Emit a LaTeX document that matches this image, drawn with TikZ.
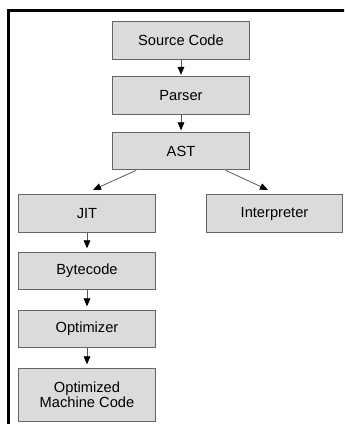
\documentclass[tikz,border=0pt]{standalone}
\usepackage{fontspec}
\setmainfont{Liberation Sans}
\usetikzlibrary{arrows.meta}

\begin{document}
\begin{tikzpicture}[x=0.75pt, y=-0.75pt,
    box/.style={rectangle, draw=black!60, fill=black!14, line width=0.8pt,
    minimum width=102.5pt, minimum height=28.2pt, inner sep=0pt,
    font=\fontsize{11}{10}\selectfont, align=center},
    flow/.style={draw=black!65, line width=0.6pt,
    -{Triangle[length=6pt, width=5pt, color=black]}}]
    \useasboundingbox (0, 0) rectangle (344, 424);
    \clip (0, 0) rectangle (344, 424);
    \draw [line width=2.3pt] (8.5, 10.5) rectangle (360, 440);

	\node (Src) at (181, 40.5)   [box] {Source Code};
	\node (Par) at (181, 95.5)   [box] {Parser};
	\node (Ast) at (181, 151)    [box] {AST};
	\node (Jit) at (87, 213.5)   [box] {JIT};
	\node (Int) at (274.5, 213.5) [box] {Interpreter};
	\node (Byt) at (87, 271)     [box] {Bytecode};
	\node (Opt) at (87, 329)     [box] {Optimizer};
	\node (Mac) at (87, 394.7)   [box, minimum height=39.8pt] {Optimized\\Machine Code};

	\draw [flow, shorten >=1pt] (Src) -- (Par);
	\draw [flow, shorten >=1pt] (Par) -- (Ast);
	\draw [flow] ([xshift=18pt]Ast.south west) -- ([xshift=4.5pt, yshift=3.2pt]Jit.north);
	\draw [flow] ([xshift=-18.2pt]Ast.south east) -- ([xshift=-4.9pt, yshift=3.2pt]Int.north);
	\draw [flow, shorten >=2.5pt] (Jit) -- (Byt);
	\draw [flow, shorten >=2.5pt] (Byt) -- (Opt);
	\draw [flow, shorten >=2.5pt] (Opt) -- (Mac);
\end{tikzpicture}
\end{document}
